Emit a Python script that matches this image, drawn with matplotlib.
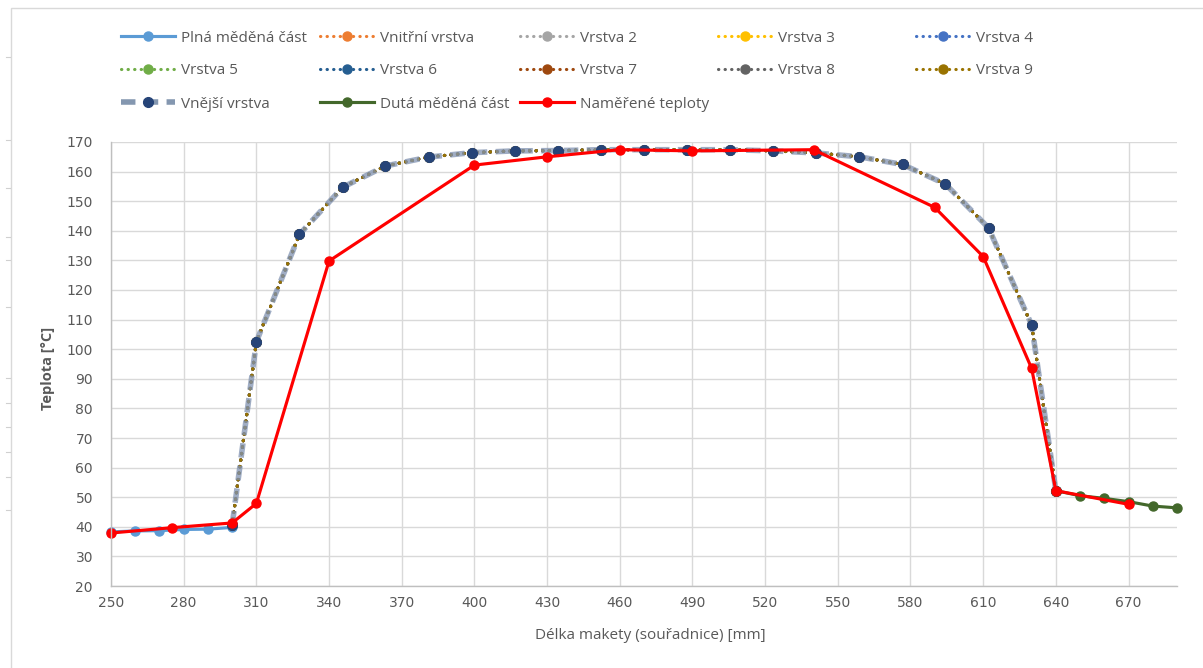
import matplotlib
matplotlib.use("Agg")
import matplotlib.pyplot as plt
from matplotlib.lines import Line2D
from matplotlib.patches import Rectangle

# ---- data -------------------------------------------------------------
plna_x = [250, 260, 270, 280, 290, 300]
plna_t = [38.3, 38.6, 38.7, 39.1, 39.2, 39.8]

layer_x = [300, 310, 327.8, 345.6, 363.3, 381.1, 398.9, 416.7, 434.4, 452.2,
           470, 487.8, 505.6, 523.3, 541.1, 558.9, 576.7, 594.4, 612.2, 630, 640]
layer_t = [40.5, 102.5, 138.8, 154.7, 161.9, 164.9, 166.4, 167.0, 167.1, 167.4,
           167.4, 167.4, 167.4, 167.0, 166.3, 165.0, 162.4, 155.8, 141.0, 108.2, 52.2]

duta_x = [640, 650, 660, 670, 680, 690]
duta_t = [52.2, 50.5, 49.6, 48.5, 47.0, 46.4]

mer_x = [250, 275, 300, 310, 340, 400, 430, 460, 490, 540, 590, 610, 630, 640, 670]
mer_t = [37.9, 39.7, 41.3, 47.9, 129.8, 162.2, 165.0, 167.4, 167.0, 167.4,
         147.9, 131.3, 93.5, 52.2, 47.6]

layer_names = ["Vnitřní vrstva", "Vrstva 2", "Vrstva 3", "Vrstva 4", "Vrstva 5",
               "Vrstva 6", "Vrstva 7", "Vrstva 8", "Vrstva 9"]
layer_colors = ["#ED7D31", "#A5A5A5", "#FFC000", "#4472C4", "#70AD47",
                "#255E91", "#9E480E", "#636363", "#997300"]

x_ticks = list(range(250, 671, 30))
y_ticks = list(range(20, 171, 10))

# ---- figure -----------------------------------------------------------
W, H = 1203, 668
TXT = "#595959"
fig = plt.figure(figsize=(W / 100, H / 100), dpi=100)

# chart frame
fig.add_artist(Rectangle((11 / W, -0.05), 1.2, 1 - 8 / H + 0.05,
                         transform=fig.transFigure, fill=False,
                         edgecolor="#D9D9D9", lw=1.0))
for yy in [57, 140, 188, 237, 260, 307, 378, 403, 427, 452, 477, 510]:
    fig.add_artist(Line2D([6 / W, 10 / W], [1 - yy / H, 1 - yy / H],
                          transform=fig.transFigure, color="#D0D0D0", lw=0.8))

ax = fig.add_axes([111 / W, 1 - 586 / H, (1177 - 111) / W, (586 - 142) / H])
ax.set_xlim(250, 690)
ax.set_ylim(20, 170)
ax.set_xticks(x_ticks)
ax.set_yticks(y_ticks)
ax.grid(True, color="#D9D9D9", lw=1.0)
ax.set_axisbelow(True)
for s in ["top", "right"]:
    ax.spines[s].set_visible(False)
for s in ["left", "bottom"]:
    ax.spines[s].set_color("#BFBFBF")
    ax.spines[s].set_linewidth(1.0)
ax.tick_params(length=0, labelsize=10, labelcolor=TXT)
ax.tick_params(axis="y", pad=13)
ax.tick_params(axis="x", pad=7)
for lab in ax.get_xticklabels() + ax.get_yticklabels():
    lab.set_family("DejaVu Sans")

ax.set_xlabel("Délka makety (souřadnice) [mm]", fontsize=11, color=TXT,
              family="Open Sans", va="center")
ax.xaxis.set_label_coords(0.5056, -0.1126)
ax.set_ylabel("Teplota [°C]", fontsize=10.5, color=TXT, family="Open Sans",
              fontweight="bold", va="center")
ax.yaxis.set_label_coords(-0.0591, 0.491)

LW = 2.25
MS = 6.5
OUT_DASH = (2.6, 1.5)

handles = []
h, = ax.plot(plna_x, plna_t, color="#5B9BD5", lw=LW, marker="o", ms=MS,
             clip_on=False, label="Plná měděná část")
handles.append(h)

for name, col in zip(layer_names, layer_colors):
    h, = ax.plot(layer_x, layer_t, color=col, lw=LW, marker="o", ms=MS,
                 clip_on=False, label=name, dash_capstyle="round")
    h.set_dashes((0.1, 2.0))
    handles.append(h)

# outer layer: wide translucent dashed line with dark markers
h_out, = ax.plot(layer_x, layer_t, color="#8092B0", lw=4.0, alpha=0.75,
                 clip_on=False, dash_capstyle="butt")
h_out.set_dashes(OUT_DASH)
ax.plot(layer_x, layer_t, lw=0, marker="o", ms=7, color="#264478",
        clip_on=False)
h = Line2D([], [], color="#8497B0", lw=4.0, marker="o", ms=7,
           markerfacecolor="#264478", markeredgecolor="#264478")
h.set_dashes(OUT_DASH)
handles.append(h)

h, = ax.plot(duta_x, duta_t, color="#43682B", lw=LW, marker="o", ms=MS,
             clip_on=False, label="Dutá měděná část")
handles.append(h)
h, = ax.plot(mer_x, mer_t, color="#FF0000", lw=LW, marker="o", ms=MS,
             clip_on=False, label="Naměřené teploty")
handles.append(h)

labels = (["Plná měděná část"] + layer_names +
          ["Vnější vrstva", "Dutá měděná část", "Naměřené teploty"])

# legend grid: 5 columns, 3 rows
col_x = [121, 320, 520, 718, 916]
row_y = [38, 71, 104]
for i, (hd, lb) in enumerate(zip(handles, labels)):
    cx = col_x[i % 5]
    cy = row_y[i // 5]
    leg = fig.legend([hd], [lb], loc="center left",
                     bbox_to_anchor=(cx / W, 1 - cy / H),
                     frameon=False, borderpad=0, borderaxespad=0,
                     handlelength=3.53, handletextpad=0.4, numpoints=1,
                     prop={"family": "Open Sans", "size": 11})
    for t in leg.get_texts():
        t.set_color(TXT)

fig.savefig("out.png", dpi=100)
